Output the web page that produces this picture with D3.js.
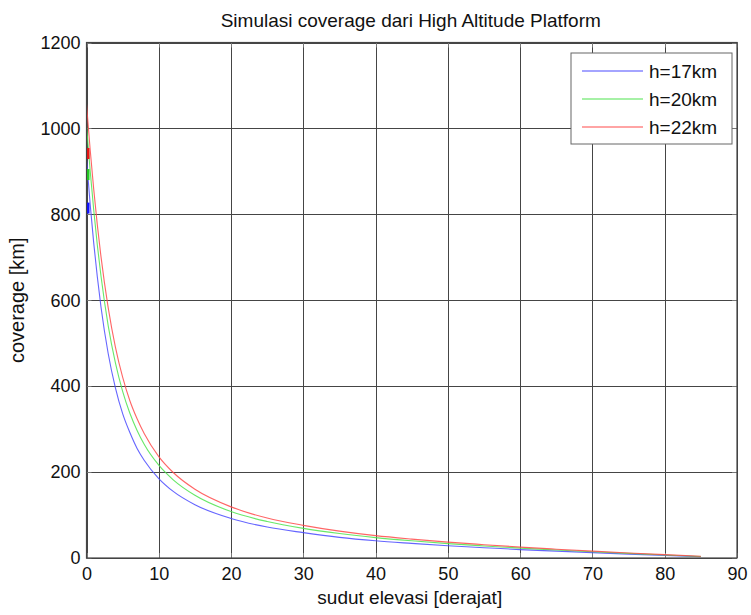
<!DOCTYPE html>
<html>
<head>
<meta charset="utf-8">
<script src="https://cdn.jsdelivr.net/npm/d3@7"></script>
<style>
  html, body { margin: 0; padding: 0; background: #fff; }
  svg { display: block; }
  text { font-family: "Liberation Sans", Arial, Helvetica, sans-serif; fill: #111; }
</style>
</head>
<body>
<svg id="chart" width="751" height="615"></svg>
<script>
// ---- data ----
const title = "Simulasi coverage dari High Altitude Platform";
const xLabel = "sudut elevasi [derajat]";
const yLabel = "coverage [km]";
const xTicks = [0, 10, 20, 30, 40, 50, 60, 70, 80, 90];
const yTicks = [0, 200, 400, 600, 800, 1000, 1200];
const seriesNames = ["h=17km", "h=20km", "h=22km"];
const seriesColors = ["#4a4aff", "#4ee44e", "#ff4a4a"];
const markerColors = ["#1010ff", "#22cc22", "#ee1111"];
const angles = [0, 0.5, 1, 1.5, 2, 3, 4, 5, 6, 7, 8, 10, 12, 15, 20, 25, 30, 35, 40, 45, 50, 55, 60, 65, 70, 75, 80, 85];
const cov17 = [930, 825, 733, 654, 585, 476, 396, 336, 292, 255, 227, 185, 155, 124, 92, 72, 59, 48, 40, 34, 28.5, 24, 19.6, 15.9, 12.4, 9.1, 6, 3];
const cov20 = [1008, 903, 810, 728, 657, 541, 454, 388, 337, 297, 264, 216, 182, 146, 108, 85, 69, 57, 47.5, 40, 33.5, 28, 23, 18.7, 14.6, 10.7, 7, 3.5];
const cov22 = [1057, 952, 858, 775, 702, 583, 491, 421, 366, 324, 289, 236, 199, 160, 119, 93, 76, 62.5, 52, 44, 37, 31, 25.4, 20.5, 16, 11.8, 7.8, 3.9];
const allSeries = [cov17, cov20, cov22];

// ---- layout ----
const svg = d3.select("#chart");
const L = 86.5, R = 737, T = 42.5, B = 558;
const x = d3.scaleLinear().domain([0, 90]).range([L, R]);
const y = d3.scaleLinear().domain([0, 1200]).range([B, T]);
const gridColor = "#454545";

svg.append("rect").attr("x", L).attr("y", T).attr("width", R - L).attr("height", B - T).attr("fill", "#fff");

// grid
const grid = svg.append("g");
grid.selectAll("line.gx").data(xTicks).join("line")
  .attr("x1", d => Math.round(x(d)) + 0.5).attr("x2", d => Math.round(x(d)) + 0.5)
  .attr("y1", T).attr("y2", B)
  .attr("stroke", gridColor).attr("stroke-width", 1);
grid.selectAll("line.gy").data(yTicks).join("line")
  .attr("y1", d => Math.round(y(d)) + 0.5).attr("y2", d => Math.round(y(d)) + 0.5)
  .attr("x1", L).attr("x2", R)
  .attr("stroke", gridColor).attr("stroke-width", 1);

// axes (labels via d3 axes)
const xAxis = d3.axisBottom(x).tickValues(xTicks).tickSize(0).tickPadding(9).tickFormat(d3.format("d"));
const yAxis = d3.axisLeft(y).tickValues(yTicks).tickSize(0).tickPadding(6).tickFormat(d3.format("d"));
const gx = svg.append("g").attr("transform", `translate(0,${B})`).call(xAxis);
const gy = svg.append("g").attr("transform", `translate(${L},0)`).call(yAxis);
[gx, gy].forEach(g => {
  g.select(".domain").remove();
  g.selectAll("text").attr("font-size", 18).attr("font-family", '"Liberation Sans", Arial, sans-serif').attr("fill", "#111");
});

// small inward ticks on all sides
const tk = svg.append("g").attr("stroke", "#777").attr("stroke-width", 1);
xTicks.forEach(d => {
  const xx = Math.round(x(d)) + 0.5;
  tk.append("line").attr("x1", xx).attr("x2", xx).attr("y1", T).attr("y2", T + 5);
  tk.append("line").attr("x1", xx).attr("x2", xx).attr("y1", B).attr("y2", B - 5);
});
yTicks.forEach(d => {
  const yy = Math.round(y(d)) + 0.5;
  tk.append("line").attr("x1", L).attr("x2", L + 5).attr("y1", yy).attr("y2", yy);
  tk.append("line").attr("x1", R).attr("x2", R - 5).attr("y1", yy).attr("y2", yy);
});

// curves
const line = d3.line().x((d, i) => x(angles[i])).y(d => y(d)).curve(d3.curveMonotoneX);
const plot = svg.append("g");
allSeries.forEach((s, k) => {
  plot.append("path").attr("d", line(s)).attr("fill", "none")
    .attr("stroke", seriesColors[k]).attr("stroke-width", 1.1).attr("stroke-opacity", 0.85);
});
// small dense markers near the start of each curve
allSeries.forEach((s, k) => {
  plot.append("rect").attr("x", x(angles[0]) - 0.5).attr("y", y(s[1]) - 1)
    .attr("width", 3.5).attr("height", 11).attr("fill", markerColors[k]);
});

// axes box
svg.append("rect").attr("x", L).attr("y", T).attr("width", R - L).attr("height", B - T)
  .attr("fill", "none").attr("stroke", gridColor).attr("stroke-width", 1.2);

// legend
const lg = svg.append("g");
const lx = 571, ly = 53, lw = 161, lh = 91;
lg.append("rect").attr("x", lx).attr("y", ly).attr("width", lw).attr("height", lh)
  .attr("fill", "#fff").attr("stroke", "#666").attr("stroke-width", 1);
seriesNames.forEach((n, k) => {
  const yy = ly + 18 + k * 28;
  lg.append("line").attr("x1", lx + 11).attr("x2", lx + 72).attr("y1", yy).attr("y2", yy)
    .attr("stroke", seriesColors[k]).attr("stroke-width", 1.2);
  lg.append("text").attr("x", lx + 78).attr("y", yy + 7).attr("font-size", 19).text(n);
});

// title and axis labels
svg.append("text").attr("x", (L + R) / 2 - 1).attr("y", 27).attr("text-anchor", "middle")
  .attr("font-size", 19).text(title);
svg.append("text").attr("x", (L + R) / 2 - 2).attr("y", 604).attr("text-anchor", "middle")
  .attr("font-size", 19).text(xLabel);
svg.append("text").attr("transform", `translate(24,${(T + B) / 2}) rotate(-90)`)
  .attr("text-anchor", "middle").attr("font-size", 20).text(yLabel);
</script>
</body>
</html>
